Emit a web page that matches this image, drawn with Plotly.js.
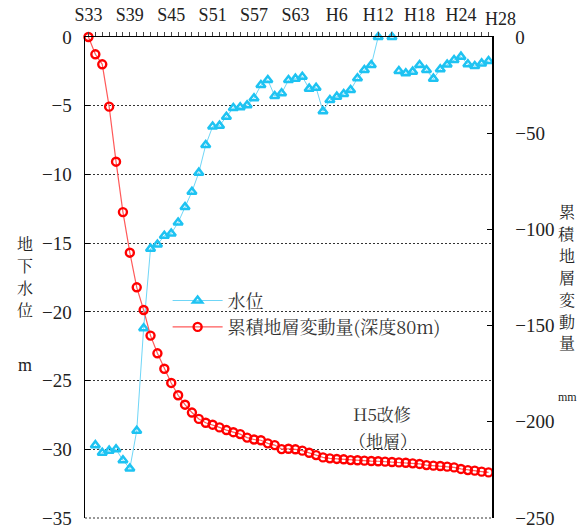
<!DOCTYPE html>
<html><head><meta charset="utf-8">
<script src="https://cdn.plot.ly/plotly-3.0.1.min.js"></script>
<style>html,body{margin:0;padding:0;background:#fff}#chart{width:579px;height:530px}</style>
</head><body><div id="chart"></div>
<script>
const years = [1958,1959,1960,1961,1962,1963,1964,1965,1966,1967,1968,1969,1970,1971,1972,1973,1974,1975,1976,1977,
  1978,1979,1980,1981,1982,1983,1984,1985,1986,1987,1988,1989,1990,1991,1992,1993,1994,1995,1996,1997,
  1998,1999,2000,2001,2002,2003,2004,2005,2006,2007,2008,2009,2010,2011,2012,2013,2014,2015,2016];
const waterLevel = [null,-29.7,-30.25,-30.1,-30.0,-30.8,-31.4,-28.65,-21.2,-15.4,-15.1,-14.46,-14.3,-13.5,-12.37,-11.26,-9.87,-7.86,-6.52,-6.45,
  -5.8,-5.17,-5.12,-4.97,-4.46,-3.5,-3.13,-4.29,-4.1,-3.13,-3.03,-2.89,-3.76,-3.69,-5.41,-4.58,-4.34,-4.15,-3.86,-3.0,
  -2.4,-2.04,0,null,0,-2.47,-2.64,-2.52,-2.04,-2.4,-3.03,-2.35,-2.01,-1.67,-1.43,-1.99,-2.11,-1.92,-1.75];
const subsidence = [0,-9,-14.2,-36.2,-64.8,-91,-112.1,-130.1,-141.9,-155.2,-164.4,-172.4,-179.8,-186.2,-191.1,-195.2,-198.5,-200.5,-201.5,-202.9,
  -204.3,-205.4,-206.4,-208.2,-209.2,-209.6,-211.2,-212.1,-214.2,-214.0,-214.3,-215.0,-216.1,-217.3,-218.5,-219.0,-219.3,-219.5,-219.9,-220.0,
  -220.2,-220.4,-220.5,-220.7,-220.9,-221.1,-221.3,-221.6,-221.9,-222.5,-222.8,-223.0,-223.3,-223.7,-224.5,-225.1,-225.4,-225.9,-226.3];
const tickYears = [1958,1964,1970,1976,1982,1988,1994,2000,2006,2012];
const tickLabels = ['S33','S39','S45','S51','S57','S63','H6','H12','H18','H24'];
const lastTickYear = 2016, lastTickLabel = 'H28';
const breakAfterYear = 2002;
const leftTitleChars = ['地','下','水','位'];
const leftUnit = 'm';
const rightTitleChars = ['累','積','地','層','変','動','量'];
const rightUnit = 'mm';
const noteLines = ['H5改修','（地層）'];

const allTickText = years.map(y => { const i = tickYears.indexOf(y); return i >= 0 ? tickLabels[i] : ''; });
const serif = 'Liberation Serif, Noto Serif CJK JP, serif';
const mincho = 'Noto Serif CJK JP, Liberation Serif, serif';
const waterColor = '#1ec3f2';

const idxA = years.map((y,i)=>i).filter(i => years[i] <= breakAfterYear);
const idxB = years.map((y,i)=>i).filter(i => years[i] > breakAfterYear);

const waterStyle = {
  type:'scatter', mode:'lines+markers', cliponaxis:false, connectgaps:false,
  line:{color:'#6fd6f7', width:1},
  marker:{symbol:'triangle-up-open', size:8, color:waterColor, line:{width:2.5, color:waterColor}}
};
const traces = [
  Object.assign({}, waterStyle, {name:'水位', x: idxA.map(i=>years[i]), y: idxA.map(i=>waterLevel[i]), yaxis:'y'}),
  {type:'scatter', mode:'lines+markers', name:'累積地層変動量(深度80m)', x: years, y: subsidence, yaxis:'y2', cliponaxis:false,
   line:{color:'#ff5a5a', width:1.2},
   marker:{symbol:'circle-open', size:8, color:'#ff0000', line:{width:2.4, color:'#ff0000'}}},
  Object.assign({}, waterStyle, {name:'水位', showlegend:false, x: idxB.map(i=>years[i]), y: idxB.map(i=>waterLevel[i]), yaxis:'y'})
];

// pixel helpers for placing the free text (plot area 85..492 x 37..518)
const px = x => (x - 85) / 407;
const py = y => (518 - y) / 481;

const annotations = [
  {xref:'x', yref:'paper', x:lastTickYear, y:1, xshift:12, yshift:18, text:lastTickLabel, showarrow:false,
   font:{family:serif, size:18, color:'#222'}, xanchor:'center', yanchor:'middle'},
  {xref:'paper', yref:'paper', x:px(25), y:py(365), text:leftUnit, showarrow:false,
   font:{family:serif, size:18, color:'#222'}, xanchor:'center', yanchor:'middle'},
  {xref:'paper', yref:'paper', x:px(567), y:py(397), text:rightUnit, showarrow:false,
   font:{family:serif, size:12, color:'#222'}, xanchor:'center', yanchor:'middle'},
  {xref:'paper', yref:'paper', x:px(382), y:py(413), text:noteLines[0], showarrow:false,
   font:{family:mincho, size:17, color:'#333'}, xanchor:'center', yanchor:'middle'},
  {xref:'paper', yref:'paper', x:px(383), y:py(440), text:noteLines[1], showarrow:false,
   font:{family:mincho, size:17, color:'#333'}, xanchor:'center', yanchor:'middle'}
];
leftTitleChars.forEach((c,i) => annotations.push({xref:'paper', yref:'paper', x:px(25), y:py(243 + i*22.3),
  text:c, showarrow:false, font:{family:mincho, size:16, color:'#222'}, xanchor:'center', yanchor:'middle'}));
rightTitleChars.forEach((c,i) => annotations.push({xref:'paper', yref:'paper', x:px(567), y:py(212 + i*21.8),
  text:c, showarrow:false, font:{family:mincho, size:16, color:'#222'}, xanchor:'center', yanchor:'middle'}));

const layout = {
  width:579, height:530,
  margin:{l:85, r:87, t:37, b:12, pad:0},
  paper_bgcolor:'#fff', plot_bgcolor:'#fff',
  showlegend:true,
  font:{family:serif, size:17, color:'#222'},
  xaxis:{
    side:'top', range:[1957.5, 2016.5], tickmode:'array', tickvals: years, ticktext: allTickText,
    ticks:'outside', ticklen:4, tickcolor:'#444', tickwidth:1,
    showline:true, linecolor:'#000', linewidth:1.5, showgrid:false, zeroline:false,
    tickfont:{family:serif, size:18, color:'#222'}, ticklabelstandoff:3
  },
  yaxis:{
    range:[-35, 0], dtick:5, tick0:0, ticks:'inside', ticklen:5, tickcolor:'#000',
    showline:true, linecolor:'#000', linewidth:1.5, zeroline:false,
    showgrid:true, gridcolor:'#333', gridwidth:1, griddash:'2px,2px',
    tickfont:{family:serif, size:19, color:'#222'}, ticklabelstandoff:8
  },
  yaxis2:{
    overlaying:'y', side:'right', range:[-250, 0], dtick:50, tick0:0, ticks:'inside', ticklen:5, tickcolor:'#000',
    showline:true, linecolor:'#000', linewidth:1.5, zeroline:false, showgrid:false,
    tickfont:{family:serif, size:19, color:'#222'}, ticklabelstandoff:18
  },
  legend:{x:0.203, y:0.49, xanchor:'left', yanchor:'top', bgcolor:'rgba(0,0,0,0)',
    font:{family:mincho, size:18, color:'#333'}, itemwidth:50},
  shapes:[
    {type:'line', xref:'paper', yref:'paper', x0:0, x1:1, y0:0, y1:0, line:{color:'#333', width:1, dash:'2px,2px'}}
  ],
  annotations: annotations
};
Plotly.newPlot('chart', traces, layout, {displayModeBar:false, staticPlot:true});
</script></body></html>
